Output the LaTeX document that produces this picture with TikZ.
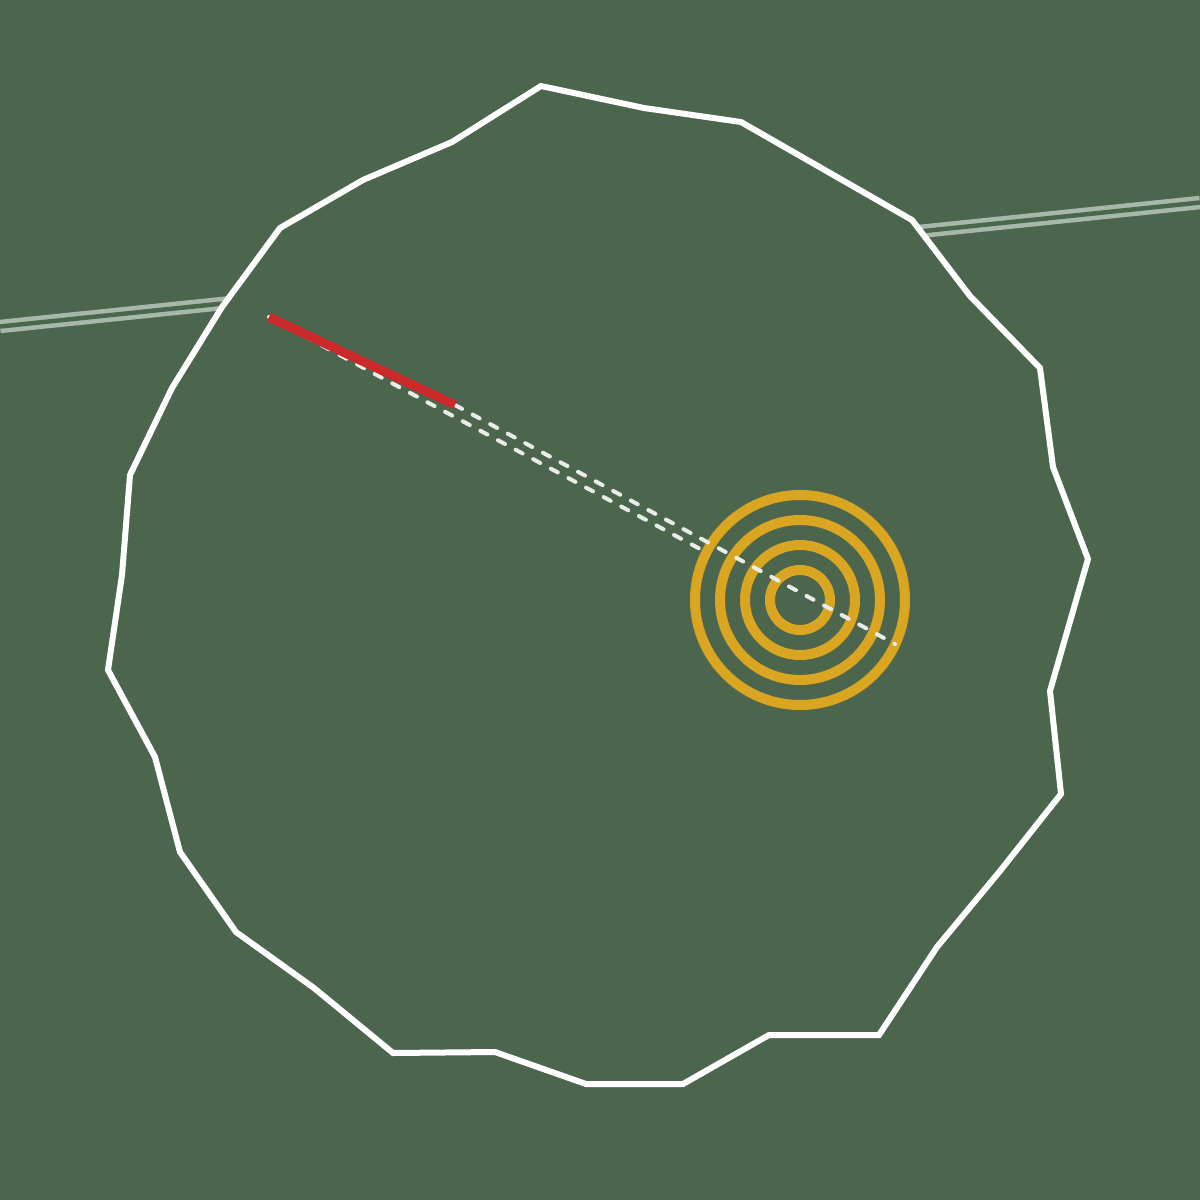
\documentclass[tikz,border=0pt]{standalone}
\definecolor{turf}{RGB}{76,102,78}
\definecolor{cartpath}{RGB}{168,184,168}
\definecolor{flaggold}{RGB}{218,165,32}
\definecolor{shotred}{RGB}{204,42,42}
\definecolor{chalk}{RGB}{232,237,231}
\begin{document}
\begin{tikzpicture}[x=1pt, y=-1pt,
    edge/.style = {draw=white, line width=6pt, fill=turf},
    path/.style = {draw=cartpath, line width=4.5pt, double=turf, double distance=4.5pt},
    ring/.style = {draw=flaggold, line width=10pt},
    aim/.style = {draw=chalk, line width=4pt, line cap=round, dash pattern=on 8pt off 12pt},
    shot/.style = {draw=shotred, line width=9pt}]
	\fill[turf] (0,0) rectangle (1200,1200);
	\useasboundingbox (0,0) rectangle (1200,1200);
	\coordinate (tee) at (269,317);
	\coordinate (ball) at (455,405);
	\coordinate (pin) at (800,600);
	\coordinate (aimend) at (702,550);
	\coordinate (rollend) at (895,644);
	\draw[path] (0,326.5) -- (1200,202.5);
	\draw[edge] (541,86) -- (644,108) -- (741,122) -- (912,220) -- (970,296) -- (1040,368)
		-- (1053,467) -- (1088,559) -- (1050,691) -- (1061,794) -- (1000,871) -- (937,947)
		-- (879,1035) -- (769,1035) -- (683,1084) -- (586,1084) -- (495,1052) -- (393,1053)
		-- (314,988) -- (236,932) -- (180,852) -- (155,757) -- (108,670) -- (122,575)
		-- (130,475) -- (172,388) -- (222,307) -- (280,228) -- (363,180) -- (452,142) -- cycle;
	\foreach \r in {30,55,80,105}
		\draw[ring] (pin) circle (\r);
	\draw[aim] (tee) -- (aimend);
	\draw[aim] (ball) -- (rollend);
	\draw[shot] (tee) -- (ball);
\end{tikzpicture}
\end{document}
